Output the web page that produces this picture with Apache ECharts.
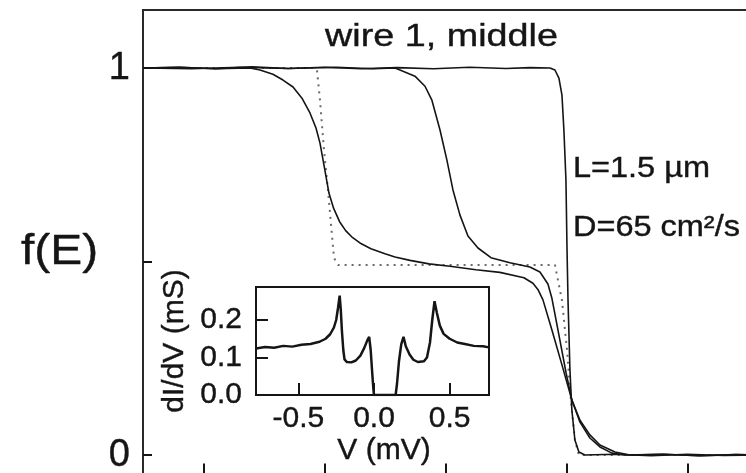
<!DOCTYPE html>
<html>
<head>
<meta charset="utf-8">
<script src="https://cdn.jsdelivr.net/npm/echarts@6/dist/echarts.min.js"></script>
<style>
  html, body { margin: 0; padding: 0; overflow: hidden; background: #fff; }
  #chart { width: 780px; height: 500px; }
</style>
</head>
<body>
<div id="chart"></div>
<script>
const FONT = '"Liberation Sans", Arial, Helvetica, sans-serif';
const INK = '#151515';

// Distribution function f(E), E in meV, pairs [E, f]
const fU0 = [
  [-0.35, 1.0], [-0.32, 1.002], [-0.29, 0.998], [-0.26, 1.003], [-0.23, 0.999],
  [-0.20, 1.002], [-0.17, 0.998], [-0.14, 1.001], [-0.11, 0.998], [-0.08, 1.002],
  [-0.05, 0.999], [-0.03, 1.001], [-0.0136, 1.0], [-0.0095, 0.995], [-0.0062, 0.974],
  [-0.0037, 0.93], [-0.0021, 0.84], [-0.0004, 0.711], [0.0005, 0.53], [0.0013, 0.401],
  [0.0029, 0.22], [0.0045, 0.116], [0.007, 0.039], [0.0103, 0.008], [0.0153, 0.0],
  [0.04, 0.002], [0.07, -0.002], [0.10, 0.002], [0.13, -0.001], [0.16, 0.0]
];
const fU1 = [
  [-0.35, 1.0], [-0.31, 0.998], [-0.27, 1.002], [-0.23, 0.999], [-0.19, 1.002],
  [-0.16, 0.998], [-0.1417, 1.0], [-0.1376, 0.995], [-0.1252, 0.979], [-0.1169, 0.953],
  [-0.1112, 0.917], [-0.1045, 0.84], [-0.0988, 0.762], [-0.0938, 0.685], [-0.088, 0.62],
  [-0.0814, 0.566], [-0.0731, 0.535], [-0.0624, 0.51], [-0.0467, 0.497], [-0.0302, 0.486],
  [-0.0219, 0.473], [-0.0153, 0.442], [-0.012, 0.405], [-0.0054, 0.297], [-0.0004, 0.214],
  [0.0045, 0.142], [0.0112, 0.085], [0.0194, 0.044], [0.0277, 0.021], [0.0376, 0.005],
  [0.0483, 0.0], [0.08, 0.002], [0.11, -0.002], [0.14, 0.001], [0.16, 0.0]
];
const fU2 = [
  [-0.35, 1.0], [-0.32, 1.002], [-0.29, 0.998], [-0.2616, 1.0], [-0.2533, 0.995],
  [-0.2426, 0.984], [-0.2343, 0.969], [-0.226, 0.951], [-0.2186, 0.922], [-0.212, 0.884],
  [-0.207, 0.845], [-0.2037, 0.806], [-0.2004, 0.749], [-0.1963, 0.677], [-0.1925, 0.638],
  [-0.1875, 0.603], [-0.1825, 0.58], [-0.1775, 0.564], [-0.1707, 0.548], [-0.1616, 0.533],
  [-0.1500, 0.52], [-0.1417, 0.512], [-0.1293, 0.503], [-0.1136, 0.494], [-0.0963, 0.488],
  [-0.0748, 0.479], [-0.055, 0.472], [-0.0351, 0.458], [-0.0277, 0.444], [-0.0236, 0.428],
  [-0.0194, 0.401], [-0.012, 0.323], [-0.0037, 0.233], [0.0045, 0.142], [0.0112, 0.09],
  [0.0194, 0.052], [0.0277, 0.026], [0.0401, 0.008], [0.0525, 0.0], [0.08, 0.002],
  [0.11, -0.002], [0.14, 0.001], [0.16, 0.0]
];
const fDots = [
  [-0.35, 1.0], [-0.2087, 1.0], [-0.2062, 0.995], [-0.2037, 0.917], [-0.2004, 0.788],
  [-0.1971, 0.685], [-0.1938, 0.568], [-0.1921, 0.509], [-0.1888, 0.491], [-0.0095, 0.491],
  [-0.007, 0.452], [-0.0037, 0.40], [0.0005, 0.271], [0.0037, 0.142], [0.007, 0.039],
  [0.0103, 0.0], [0.16, 0.0]
];
const mainXTicks = [-0.3, -0.2, -0.1, 0, 0.1];
const mainYTicks = [0, 0.5, 1];
const mainYLabels = [0, 1];

// Differential conductance of the tunnel probe, pairs [V (mV), dI/dV (mS)]
const dIdV = [
  [-0.78, 0.124], [-0.72, 0.128], [-0.66, 0.126], [-0.6, 0.131], [-0.54, 0.129],
  [-0.48, 0.134], [-0.42, 0.136], [-0.36, 0.142], [-0.32, 0.15], [-0.29, 0.162],
  [-0.265, 0.18], [-0.25, 0.2], [-0.238, 0.232], [-0.227, 0.265], [-0.22, 0.23],
  [-0.212, 0.17], [-0.203, 0.12], [-0.195, 0.095], [-0.18, 0.088], [-0.15, 0.087],
  [-0.12, 0.092], [-0.09, 0.105], [-0.065, 0.125], [-0.045, 0.145], [-0.032, 0.155],
  [-0.022, 0.12], [-0.012, 0.06], [-0.004, 0.015], [0.0, 0.0], [0.143, 0.0],
  [0.152, 0.03], [0.165, 0.09], [0.18, 0.135], [0.195, 0.155], [0.21, 0.13],
  [0.235, 0.108], [0.26, 0.094], [0.29, 0.088], [0.33, 0.09], [0.35, 0.1],
  [0.37, 0.14], [0.385, 0.2], [0.4, 0.25], [0.415, 0.22], [0.435, 0.185],
  [0.46, 0.163], [0.5, 0.15], [0.55, 0.14], [0.6, 0.136], [0.66, 0.131],
  [0.72, 0.13], [0.76, 0.127]
];
const insetXTicks = [-0.5, 0, 0.5];
const insetYTicks = [0, 0.1, 0.2];

const chart = echarts.init(document.getElementById('chart'), null, { renderer: 'canvas' });

const solid = (data) => ({
  type: 'line', xAxisIndex: 0, yAxisIndex: 0, data, showSymbol: false, smooth: false,
  lineStyle: { color: INK, width: 1.6 }, z: 3, silent: true
});

const labelFont = (size) => ({
  fontFamily: FONT, fontSize: size, color: INK, textBorderColor: INK, textBorderWidth: 0.4
});

chart.setOption({
  animation: false,
  backgroundColor: '#fff',
  textStyle: { fontFamily: FONT },
  grid: [
    { left: 143, top: 10, width: 617, height: 464.4, show: true, borderColor: '#2a2a2a', borderWidth: 2, backgroundColor: 'transparent' },
    { left: 256, top: 287, width: 233, height: 108, show: true, borderColor: INK, borderWidth: 2, backgroundColor: '#fff' }
  ],
  xAxis: [
    {
      gridIndex: 0, type: 'value', min: -0.35, max: 0.16,
      axisLine: { show: true, onZero: false, lineStyle: { color: '#2a2a2a', width: 2 } },
      axisTick: { show: true, inside: true, length: 11, customValues: mainXTicks, lineStyle: { color: INK, width: 2 } },
      axisLabel: { show: false }, splitLine: { show: false }
    },
    {
      gridIndex: 1, type: 'value', min: -0.78, max: 0.76,
      name: 'V (mV)', nameLocation: 'middle', nameGap: 36,
      nameTextStyle: Object.assign(labelFont(30), { padding: [0, 0, 0, 23] }),
      axisLine: { show: true, onZero: false, lineStyle: { color: INK, width: 2 } },
      axisTick: { show: true, inside: true, length: 12, customValues: insetXTicks, lineStyle: { color: INK, width: 2 } },
      axisLabel: Object.assign(labelFont(30), { customValues: insetXTicks, margin: 9, formatter: v => v.toFixed(1) }),
      splitLine: { show: false }
    }
  ],
  yAxis: [
    {
      gridIndex: 0, type: 'value', min: -0.05, max: 1.15,
      axisLine: { show: true, onZero: false, lineStyle: { color: '#2a2a2a', width: 2 } },
      axisTick: { show: true, inside: true, length: 9, customValues: mainYTicks, lineStyle: { color: INK, width: 2 } },
      axisLabel: Object.assign(labelFont(38), { customValues: mainYLabels, margin: 13 }),
      splitLine: { show: false }
    },
    {
      gridIndex: 1, type: 'value', min: 0, max: 0.288,
      name: 'dI/dV (mS)', nameLocation: 'middle', nameGap: 66, nameRotate: 90,
      nameTextStyle: labelFont(30),
      axisLine: { show: true, onZero: false, lineStyle: { color: INK, width: 2 } },
      axisTick: { show: true, inside: true, length: 12, customValues: insetYTicks, lineStyle: { color: INK, width: 2 } },
      axisLabel: Object.assign(labelFont(30), { customValues: insetYTicks, margin: 14, formatter: v => v.toFixed(1) }),
      splitLine: { show: false }
    }
  ],
  series: [
    {
      type: 'line', xAxisIndex: 0, yAxisIndex: 0, data: fDots, showSymbol: false,
      lineStyle: { color: '#6a6a6a', width: 2, type: [2, 5] }, z: 2, silent: true
    },
    solid(fU2),
    solid(fU1),
    solid(fU0),
    {
      type: 'line', xAxisIndex: 1, yAxisIndex: 1, data: dIdV, showSymbol: false,
      lineStyle: { color: INK, width: 2.5 }, z: 3, silent: true
    }
  ],
  graphic: [
    { type: 'text', x: 325, y: 37, scaleX: 1.18, style: { text: 'wire 1, middle', font: '32px ' + FONT, fill: INK, stroke: INK, lineWidth: 0.4, textAlign: 'left', textVerticalAlign: 'middle' } },
    { type: 'text', x: 21, y: 252, scaleX: 1.14, style: { text: 'f(E)', font: '42px ' + FONT, fill: INK, stroke: INK, lineWidth: 0.4, textAlign: 'left', textVerticalAlign: 'middle' } },
    { type: 'text', x: 573, y: 169, scaleX: 1.12, style: { text: 'L=1.5 \u00b5m', font: '29px ' + FONT, fill: INK, stroke: INK, lineWidth: 0.4, textAlign: 'left', textVerticalAlign: 'middle' } },
    { type: 'text', x: 573, y: 228, scaleX: 1.12, style: { text: 'D=65 cm\u00b2/s', font: '29px ' + FONT, fill: INK, stroke: INK, lineWidth: 0.4, textAlign: 'left', textVerticalAlign: 'middle' } }
  ]
});
</script>
</body>
</html>
